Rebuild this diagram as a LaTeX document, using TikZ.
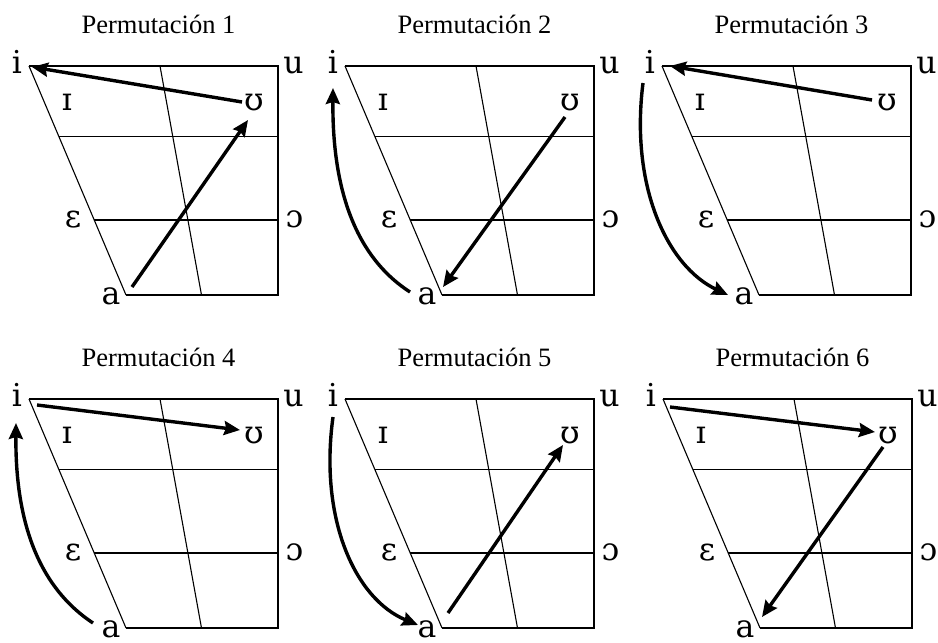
\documentclass[tikz,border=0pt]{standalone}
\usepackage{fontspec}
\setmainfont{Liberation Serif}
\newfontfamily\ipafont{DejaVu Serif}
\usetikzlibrary{arrows.meta}
\tikzset{
  gridline/.style={line width=1.4pt, line join=miter},
  slantline/.style={line width=1.1pt},
  ttl/.style={anchor=base, inner sep=0pt, font=\fontsize{26.5}{28}\selectfont},
  vw/.style={anchor=base, inner sep=0pt, font=\ipafont\fontsize{31.5}{34}\selectfont},
  arr/.style={line width=3.4pt, -{Stealth[length=16pt,width=14pt,inset=2pt]}},
}
\newcommand\vchart[2]{%
  \draw[gridline] (0,0) -- (249,0) -- (249,229) -- (97,229);
  \draw[slantline] (0,0) -- (97,229);
  \draw[gridline] (30,70.5) -- (249,70.5);
  \draw[gridline] (65,154) -- (249,154);
  \draw[slantline] (131,0) -- (172.5,229);
  \node[ttl] (#1t) at (129.5,-33) {#2};
  \node[vw] (#1i) at (-12,7.5) {i};
  \node[vw] (#1u) at (264.5,7.5) {u};
  \node[vw] (#1I) at (38,44) {ɪ};
  \node[vw] (#1U) at (225,44) {ʊ};
  \node[vw] (#1E) at (44,161) {ɛ};
  \node[vw] (#1O) at (265.5,161) {ɔ};
  \node[vw] (#1a) at (82,238) {a};
}
\begin{document}
\begin{tikzpicture}[x=1pt,y=-1pt]
\useasboundingbox[fill=white] (0,0) rectangle (938,643);
% Panel 1
\begin{scope}[shift={(29,66)}]
  \vchart{p1}{Permutación 1}
  \coordinate (p1Us) at (213,36);
  \coordinate (p1ie) at (3,1);
  \coordinate (p1as) at (103,221);
  \coordinate (p1Ue) at (219,54);
  \draw[arr] (p1Us) -- (p1ie);
  \draw[arr] (p1as) -- (p1Ue);
\end{scope}
% Panel 2
\begin{scope}[shift={(345,66)}]
  \vchart{p2}{Permutación 2}
  \coordinate (p2as) at (65,226);
  \coordinate (p2ie) at (-12,22);
  \coordinate (p2Us) at (220,51);
  \coordinate (p2ae) at (98,221);
  \draw[arr] (p2as) .. controls (20,197) and (-13,140) .. (p2ie);
  \draw[arr] (p2Us) -- (p2ae);
\end{scope}
% Panel 3
\begin{scope}[shift={(662,66)}]
  \vchart{p3}{Permutación 3}
  \coordinate (p3Us) at (210,34);
  \coordinate (p3ie) at (8,0);
  \coordinate (p3is) at (-19,17);
  \coordinate (p3ae) at (66,229);
  \draw[arr] (p3Us) -- (p3ie);
  \draw[arr] (p3is) .. controls (-32,120) and (5,200) .. (p3ae);
\end{scope}
% Panel 4
\begin{scope}[shift={(29,399)}]
  \vchart{p4}{Permutación 4}
  \coordinate (p4is) at (8,6);
  \coordinate (p4Ue) at (211,31);
  \coordinate (p4as) at (64,224);
  \coordinate (p4ie) at (-13,24);
  \draw[arr] (p4is) -- (p4Ue);
  \draw[arr] (p4as) .. controls (20,195) and (-14,140) .. (p4ie);
\end{scope}
% Panel 5
\begin{scope}[shift={(345,399)}]
  \vchart{p5}{Permutación 5}
  \coordinate (p5is) at (-12,18);
  \coordinate (p5ae) at (73,226);
  \coordinate (p5as) at (103,214);
  \coordinate (p5Ue) at (218,46);
  \draw[arr] (p5is) .. controls (-26,120) and (10,200) .. (p5ae);
  \draw[arr] (p5as) -- (p5Ue);
\end{scope}
% Panel 6
\begin{scope}[shift={(663,399)}]
  \vchart{p6}{Permutación 6}
  \coordinate (p6is) at (7,8);
  \coordinate (p6Ue) at (212,33);
  \coordinate (p6Us) at (220,48);
  \coordinate (p6ae) at (99,218);
  \draw[arr] (p6is) -- (p6Ue);
  \draw[arr] (p6Us) -- (p6ae);
\end{scope}
\end{tikzpicture}
\end{document}
